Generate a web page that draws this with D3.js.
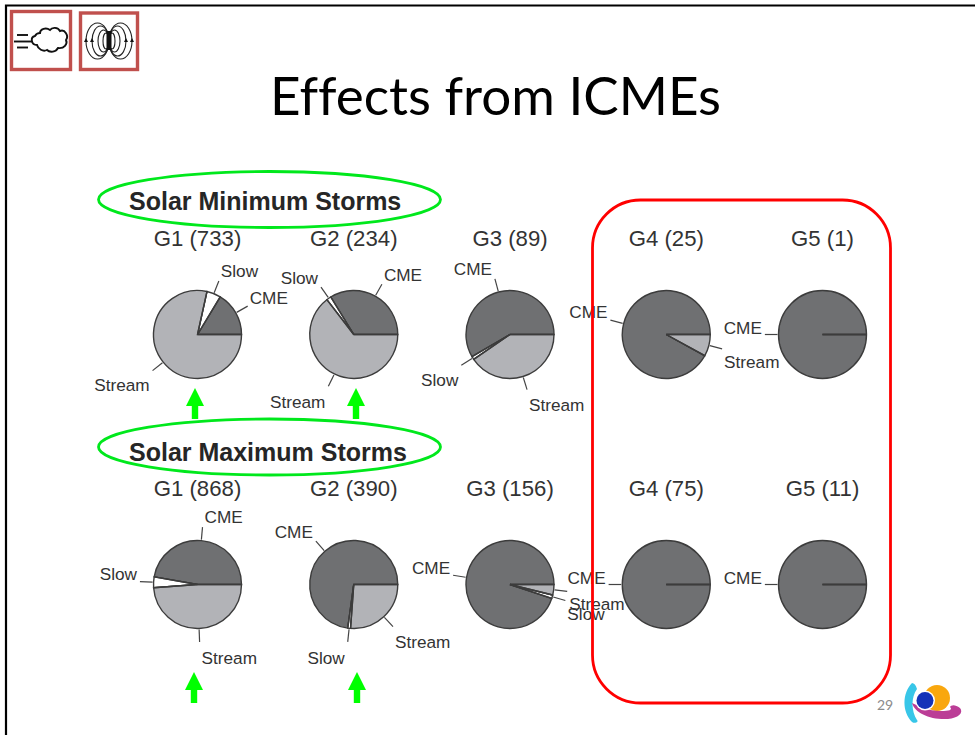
<html>

<head>
  <title>Effects from ICMEs</title>
  <script src="https://d3js.org/d3.v7.min.js"></script>
  <style>
    body {
      margin: 0;
      background: white;
    }

    svg {
      display: block;
    }

    text {
      font-family: 'Liberation Sans', sans-serif;
    }
  </style>
</head>

<body>
  <svg width="975" height="735"></svg>
  <script>
    // storm counts per group: [CME, Slow, Stream]
    var sources = ["CME", "Slow", "Stream"];
    var groups = ["G1", "G2", "G3", "G4", "G5"];
    var minTotals = [733, 234, 89, 25, 1];
    var maxTotals = [868, 390, 156, 75, 11];
    var minCounts = [[120, 38, 575], [79, 4, 151], [52, 1, 36], [23, 0, 2], [1, 0, 0]];
    var maxCounts = [[410, 34, 424], [284, 4, 102], [148, 2, 6], [75, 0, 0], [11, 0, 0]];
    var rowNames = ["Solar Minimum Storms", "Solar Maximum Storms"];
    var sourceColors = ["#6f7072", "#ffffff", "#b2b3b7"];

    var svg = d3.select("svg");
    var radius = 44;

    var colScale = d3.scalePoint().domain(groups).range([197.5, 822.5]);
    var colorScale = d3.scaleOrdinal().domain(sources).range(sourceColors);

    // R style pie: starts at 3 o'clock and runs counterclockwise
    var pie = d3.pie().sort(null).startAngle(Math.PI / 2).endAngle(Math.PI / 2 - 2 * Math.PI);
    var arc = d3.arc().innerRadius(0).outerRadius(radius);

    // slide frame
    svg.append("path")
      .attr("d", "M6,735V5.5H975")
      .attr("fill", "none")
      .attr("stroke", "black")
      .attr("stroke-width", 2.2);

    svg.append("text")
      .attr("x", 495.5)
      .attr("y", 115)
      .attr("text-anchor", "middle")
      .attr("textLength", 451)
      .attr("lengthAdjust", "spacingAndGlyphs")
      .style("font-family", "Lato")
      .style("font-size", "53px")
      .style("font-variant-ligatures", "none")
      .text("Effects from ICMEs");

    function drawRow(totals, counts, cy, titleY) {
      groups.forEach(function (g, i) {
        var cx = colScale(g);

        svg.append("text")
          .attr("x", cx)
          .attr("y", titleY)
          .attr("text-anchor", "middle")
          .attr("fill", "#333")
          .style("font-size", "22.2px")
          .text(g + " (" + totals[i] + ")");

        var slices = pie(counts[i]);
        var pieG = svg.append("g").attr("transform", "translate(" + cx + "," + cy + ")");

        pieG.selectAll("path.slice")
          .data(slices)
          .enter()
          .append("path")
          .attr("class", "slice")
          .attr("d", arc)
          .style("fill", function (d, j) { return colorScale(sources[j]); })
          .style("stroke", "#3c3c3c")
          .style("stroke-width", "1.4px");

        // d3.arc leaves out the radius on a full circle, R draws it
        pieG.selectAll("line.edge")
          .data(slices.filter(function (d) { return d.value > 0; }))
          .enter()
          .append("line")
          .attr("class", "edge")
          .attr("x2", function (d) { return d3.pointRadial(d.startAngle, radius)[0]; })
          .attr("y2", function (d) { return d3.pointRadial(d.startAngle, radius)[1]; })
          .style("stroke", "#3c3c3c")
          .style("stroke-width", "1.4px");

        // empty sources get no label
        slices.forEach(function (d, j) {
          if (d.value === 0) return;
          var mid = (d.startAngle + d.endAngle) / 2;
          var p0 = d3.pointRadial(mid, radius + 1);
          var p1 = d3.pointRadial(mid, radius * 1.31);

          pieG.append("line")
            .attr("x1", p0[0])
            .attr("y1", p0[1])
            .attr("x2", p1[0])
            .attr("y2", p1[1])
            .style("stroke", "#444")
            .style("stroke-width", "1.2px");

          var right = p1[0] > 0;
          var up = Math.cos(mid);
          var shift = up > -0.02 ? -7 - 3 * Math.abs(up) : 12 + 4 * Math.abs(up);
          pieG.append("text")
            .attr("x", p1[0] + (right ? 2 : -3))
            .attr("y", p1[1] + shift)
            .attr("dy", "0.35em")
            .attr("text-anchor", right ? "start" : "end")
            .attr("fill", "#333")
            .style("font-size", "17.2px")
            .text(sources[j]);
        });
      });
    }

    drawRow(minTotals, minCounts, 334.5, 246);
    drawRow(maxTotals, maxCounts, 584.5, 496);

    // green ellipses round the row names
    rowNames.forEach(function (name, i) {
      var cy = [199.5, 447][i];
      svg.append("ellipse")
        .attr("cx", 269.5)
        .attr("cy", cy)
        .attr("rx", 171)
        .attr("ry", 28)
        .attr("fill", "none")
        .attr("stroke", "#00e81c")
        .attr("stroke-width", 2.8);

      svg.append("text")
        .attr("x", 129)
        .attr("y", [209.5, 460.5][i])
        .attr("fill", "#262626")
        .style("font-size", "25px")
        .style("font-weight", "bold")
        .text(name);
    });

    // green arrows
    [[195, 388], [356, 388], [194, 672], [357, 672]].forEach(function (a) {
      svg.append("path")
        .attr("transform", "translate(" + a[0] + "," + a[1] + ")")
        .attr("d", "M0,0L9,18H3.2V31H-3.2V18H-9Z")
        .attr("fill", "#00ff00");
    });

    // red box round G4 and G5
    svg.append("rect")
      .attr("x", 592.5)
      .attr("y", 200)
      .attr("width", 298)
      .attr("height", 503)
      .attr("rx", 48)
      .attr("ry", 48)
      .attr("fill", "none")
      .attr("stroke", "#ff0000")
      .attr("stroke-width", 2.8);

    // icon boxes, top left
    svg.append("rect").attr("x", 11.5).attr("y", 11.5).attr("width", 59).attr("height", 58)
      .attr("fill", "none").attr("stroke", "#c0504d").attr("stroke-width", 3.4);
    svg.append("rect").attr("x", 80.5).attr("y", 13).attr("width", 57).attr("height", 56.5)
      .attr("fill", "none").attr("stroke", "#c0504d").attr("stroke-width", 3.4);

    var cloud = svg.append("g").attr("fill", "none").attr("stroke", "#111").attr("stroke-width", 1.9);
    cloud.append("path")
      .attr("d", "M35,36C30,37 31,45 37,45C38,49 43,52 47,50C50,53 56,52 58,48C64,49 68,44 66,40C69,36 65,29 60,31C58,27 52,27 50,30C46,27 40,29 40,33C38,33 36,34 35,36Z");
    [[17, 28, 35], [14, 32, 41.5], [17, 28, 47.5]].forEach(function (l) {
      cloud.append("line").attr("x1", l[0]).attr("x2", l[1]).attr("y1", l[2]).attr("y2", l[2]);
    });

    var magnet = svg.append("g").attr("fill", "none").attr("stroke", "#222").attr("stroke-width", 1.1);
    [[3, 8], [5.5, 11], [8.5, 15], [11.5, 18]].forEach(function (f) {
      magnet.append("ellipse").attr("cx", 109 - f[0]).attr("cy", 41).attr("rx", f[0]).attr("ry", f[1]);
      magnet.append("ellipse").attr("cx", 109 + f[0]).attr("cy", 41).attr("rx", f[0]).attr("ry", f[1]);
    });
    magnet.append("rect").attr("x", 106.5).attr("y", 31).attr("width", 5).attr("height", 19)
      .attr("fill", "#111").attr("stroke", "none");
    [86, 92, 126, 132].forEach(function (x) {
      magnet.append("path").attr("d", "M" + x + ",38l-2,4h4Z").attr("fill", "#111").attr("stroke", "none");
    });

    // page number and logo, bottom right
    svg.append("text")
      .attr("x", 877)
      .attr("y", 710)
      .attr("fill", "#8b8b8b")
      .style("font-family", "Lato")
      .style("font-size", "14px")
      .text("29");

    svg.append("path")
      .attr("d", "M912,683C902,693 902,712 912,722C915,724 919,722 917,720C911,711 911,697 917,689C916,685 914,683 912,683Z")
      .attr("fill", "#38c6e8");
    svg.append("circle").attr("cx", 937).attr("cy", 698).attr("r", 13).attr("fill", "#f9a70e");
    svg.append("path")
      .attr("d", "M912,703C915,713 930,720 948,719C958,718 964,713 960,708C955,704 951,705 950,707C953,710 949,711 941,711C928,711 919,706 912,703Z")
      .attr("fill", "#bb3d96");
    svg.append("circle").attr("cx", 925).attr("cy", 700.5).attr("r", 10).attr("fill", "#fff");
    svg.append("circle").attr("cx", 925).attr("cy", 700.5).attr("r", 8.5).attr("fill", "#1532b8");
  </script>
</body>

</html>
